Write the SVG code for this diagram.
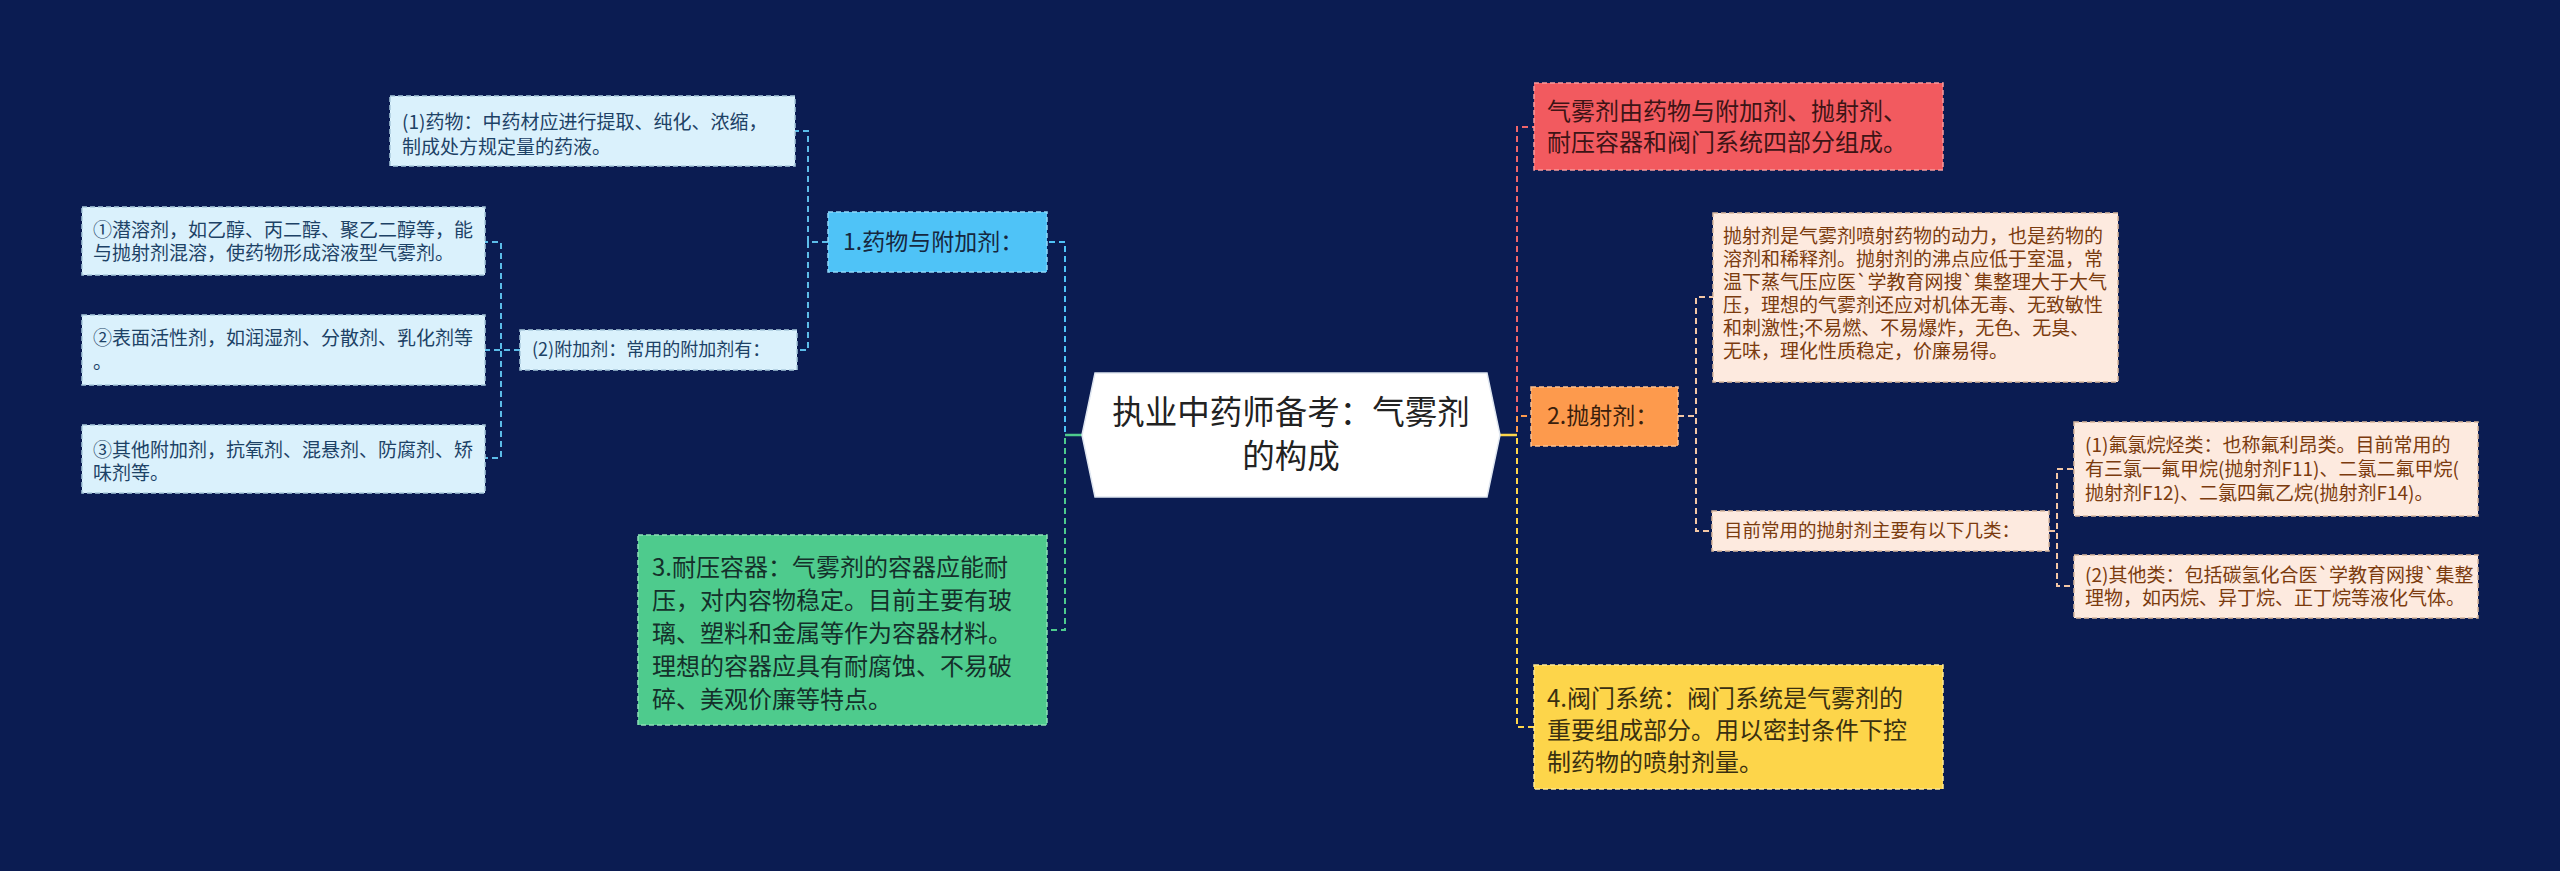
<svg xmlns="http://www.w3.org/2000/svg" width="2560" height="871" viewBox="0 0 2560 871">
<style>
text{font-family:"Noto Sans CJK SC","Noto Sans",sans-serif;}
.c{fill:none;stroke-width:2;stroke-dasharray:6 4;}
.nb{stroke-width:1.5;stroke-dasharray:5 3;}
.lb{fill:#daf1fc;stroke:#a9c9dc;}
.lbt{fill:#1d4266;font-size:19px;}
.pc{fill:#fdeadf;stroke:#d9b89e;}
.pct{fill:#7b3b0e;font-size:19px;}
.big{font-size:24px;}
</style>
<rect width="2560" height="871" fill="#0b1c52"/>
<g id="connectors">
  <path class="c" stroke="#4fc3f7" d="M1082,435 H1065 V242 H1047"/>
  <path class="c" stroke="#4ecb8d" d="M1082,435 H1065 V630 H1047"/>
  <path d="M1065,435 H1082" stroke="#4ecb8d" stroke-width="2.5" fill="none"/>
  <path class="c" stroke="#5cbde9" d="M828,242 H808 V131 H795"/>
  <path class="c" stroke="#5cbde9" d="M828,242 H808 V350 H797"/>
  <path class="c" stroke="#5cbde9" d="M520,350 H501 V242 H485"/>
  <path class="c" stroke="#5cbde9" d="M520,350 H485"/>
  <path class="c" stroke="#5cbde9" d="M520,350 H501 V458 H485"/>
  <path class="c" stroke="#f0656a" d="M1500,435 H1517 V127 H1534"/>
  <path class="c" stroke="#fd9a4d" d="M1500,435 H1517 V416 H1531"/>
  <path class="c" stroke="#fdd54a" d="M1500,435 H1517 V727 H1534"/>
  <path d="M1500,435 H1517" stroke="#fdd54a" stroke-width="2.5" fill="none"/>
  <path class="c" stroke="#f3c7a5" d="M1678,416 H1696 V297 H1713"/>
  <path class="c" stroke="#f3c7a5" d="M1678,416 H1696 V531 H1712"/>
  <path class="c" stroke="#f3c7a5" d="M2049,531 H2057 V469 H2074"/>
  <path class="c" stroke="#f3c7a5" d="M2049,531 H2057 V586 H2074"/>
</g>
<g id="center">
  <polygon points="1082,435 1095,373 1487,373 1500,435 1487,497 1095,497" fill="#ffffff" stroke="#dfe6f0" stroke-width="1.5"/>
  <text x="1291" y="424" font-size="32.5" fill="#222222" text-anchor="middle">执业中药师备考：气雾剂</text>
  <text x="1291" y="468" font-size="32.5" fill="#222222" text-anchor="middle">的构成</text>
</g>
<g id="n1">
  <rect class="nb" x="828" y="212" width="219" height="60" fill="#4fc3f7" stroke="#8fd8fa"/>
  <text x="843" y="250" font-size="23" fill="#16273f">1.药物与附加剂：</text>
</g>
<g id="n1a">
  <rect class="nb lb" x="390" y="96" width="405" height="70"/>
  <text class="lbt" x="402" y="129">(1)药物：中药材应进行提取、纯化、浓缩，</text>
  <text class="lbt" x="402" y="154">制成处方规定量的药液。</text>
</g>
<g id="n1b">
  <rect class="nb lb" x="520" y="330" width="277" height="40"/>
  <text x="532" y="356" font-size="18" fill="#1d4266">(2)附加剂：常用的附加剂有：</text>
</g>
<g id="n1b1">
  <rect class="nb lb" x="82" y="207" width="403" height="68"/>
  <text class="lbt" x="93" y="237">①潜溶剂，如乙醇、丙二醇、聚乙二醇等，能</text>
  <text class="lbt" x="93" y="260">与抛射剂混溶，使药物形成溶液型气雾剂。</text>
</g>
<g id="n1b2">
  <rect class="nb lb" x="82" y="315" width="403" height="70"/>
  <text class="lbt" x="93" y="345">②表面活性剂，如润湿剂、分散剂、乳化剂等</text>
  <text class="lbt" x="93" y="369">。</text>
</g>
<g id="n1b3">
  <rect class="nb lb" x="82" y="425" width="403" height="68"/>
  <text class="lbt" x="93" y="457">③其他附加剂，抗氧剂、混悬剂、防腐剂、矫</text>
  <text class="lbt" x="93" y="480">味剂等。</text>
</g>
<g id="n3">
  <rect class="nb" x="638" y="535" width="409" height="190" fill="#4ecb8d" stroke="#8de0b6"/>
  <text class="big" x="652" y="576" fill="#14302a">3.耐压容器：气雾剂的容器应能耐</text>
  <text class="big" x="652" y="609" fill="#14302a">压，对内容物稳定。目前主要有玻</text>
  <text class="big" x="652" y="642" fill="#14302a">璃、塑料和金属等作为容器材料。</text>
  <text class="big" x="652" y="675" fill="#14302a">理想的容器应具有耐腐蚀、不易破</text>
  <text class="big" x="652" y="708" fill="#14302a">碎、美观价廉等特点。</text>
</g>
<g id="nr">
  <rect class="nb" x="1534" y="83" width="409" height="87" fill="#f25a5f" stroke="#f79a9d"/>
  <text class="big" x="1547" y="120" fill="#3d1416">气雾剂由药物与附加剂、抛射剂、</text>
  <text class="big" x="1547" y="151" fill="#3d1416">耐压容器和阀门系统四部分组成。</text>
</g>
<g id="n2">
  <rect class="nb" x="1531" y="387" width="147" height="59" fill="#fd9a4d" stroke="#fdc08f"/>
  <text x="1547" y="424" font-size="23" fill="#3a1e0c">2.抛射剂：</text>
</g>
<g id="n2a">
  <rect class="nb pc" x="1713" y="213" width="405" height="169"/>
  <text class="pct" x="1723" y="243">抛射剂是气雾剂喷射药物的动力，也是药物的</text>
  <text class="pct" x="1723" y="266">溶剂和稀释剂。抛射剂的沸点应低于室温，常</text>
  <text class="pct" x="1723" y="289">温下蒸气压应医`学教育网搜`集整理大于大气</text>
  <text class="pct" x="1723" y="312">压，理想的气雾剂还应对机体无毒、无致敏性</text>
  <text class="pct" x="1723" y="335">和刺激性;不易燃、不易爆炸，无色、无臭、</text>
  <text class="pct" x="1723" y="358">无味，理化性质稳定，价廉易得。</text>
</g>
<g id="n2b">
  <rect class="nb pc" x="1712" y="511" width="337" height="40"/>
  <text x="1724" y="537" font-size="18.5" fill="#7b3b0e">目前常用的抛射剂主要有以下几类：</text>
</g>
<g id="n2b1">
  <rect class="nb pc" x="2074" y="422" width="404" height="94"/>
  <text class="pct" x="2085" y="452">(1)氟氯烷烃类：也称氟利昂类。目前常用的</text>
  <text class="pct" x="2085" y="476">有三氯一氟甲烷(抛射剂F11)、二氯二氟甲烷(</text>
  <text class="pct" x="2085" y="500">抛射剂F12)、二氯四氟乙烷(抛射剂F14)。</text>
</g>
<g id="n2b2">
  <rect class="nb pc" x="2074" y="555" width="404" height="63"/>
  <text class="pct" x="2085" y="582">(2)其他类：包括碳氢化合医`学教育网搜`集整</text>
  <text class="pct" x="2085" y="605">理物，如丙烷、异丁烷、正丁烷等液化气体。</text>
</g>
<g id="n4">
  <rect class="nb" x="1534" y="665" width="409" height="124" fill="#fdd54a" stroke="#fee793"/>
  <text class="big" x="1547" y="707" fill="#3a3010">4.阀门系统：阀门系统是气雾剂的</text>
  <text class="big" x="1547" y="739" fill="#3a3010">重要组成部分。用以密封条件下控</text>
  <text class="big" x="1547" y="771" fill="#3a3010">制药物的喷射剂量。</text>
</g>
</svg>
